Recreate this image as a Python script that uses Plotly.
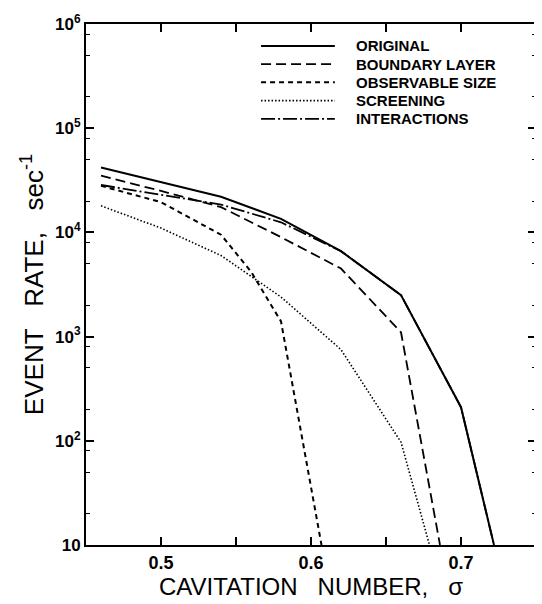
import plotly.graph_objects as go

# ---- data ----
sigma_original = [0.46, 0.50, 0.54, 0.58, 0.62, 0.66, 0.70, 0.722]
rate_original = [42000, 30500, 22000, 13500, 6600, 2500, 210, 10]

sigma_boundary = [0.46, 0.50, 0.54, 0.58, 0.62, 0.66, 0.686]
rate_boundary = [35000, 25000, 17500, 9000, 4500, 1100, 10]

sigma_observable = [0.46, 0.50, 0.54, 0.56, 0.58, 0.607]
rate_observable = [28000, 19500, 9500, 4200, 1400, 10]

sigma_screening = [0.46, 0.50, 0.54, 0.58, 0.62, 0.66, 0.679]
rate_screening = [18000, 11000, 6000, 2400, 750, 97, 10]

sigma_interactions = [0.46, 0.50, 0.54, 0.58, 0.62, 0.66, 0.70, 0.722]
rate_interactions = [28500, 23000, 18500, 12500, 6600, 2500, 210, 10]

series_names = ["ORIGINAL", "BOUNDARY LAYER", "OBSERVABLE SIZE", "SCREENING", "INTERACTIONS"]

x_tickvals = [0.5, 0.55, 0.6, 0.65, 0.7]
x_ticktext = ["0.5", "", "0.6", "", "0.7"]
y_tickvals = [10, 1e2, 1e3, 1e4, 1e5, 1e6]
y_ticktext = ["10", "10<sup>2</sup>", "10<sup>3</sup>", "10<sup>4</sup>", "10<sup>5</sup>", "10<sup>6</sup>"]
y_minorvals = [m * 10 ** e for e in range(1, 6) for m in (2, 5, 8)]

FONT = "Liberation Sans, Arial, Helvetica, sans-serif"

styles = {
    "ORIGINAL": dict(dash="solid", width=2),
    "BOUNDARY LAYER": dict(dash="10px,5px", width=1.8),
    "OBSERVABLE SIZE": dict(dash="5px,4px", width=2),
    "SCREENING": dict(dash="1.5px,2px", width=1.6),
    "INTERACTIONS": dict(dash="14px,3px,2px,3px", width=1.8),
}

data = {
    "ORIGINAL": (sigma_original, rate_original),
    "BOUNDARY LAYER": (sigma_boundary, rate_boundary),
    "OBSERVABLE SIZE": (sigma_observable, rate_observable),
    "SCREENING": (sigma_screening, rate_screening),
    "INTERACTIONS": (sigma_interactions, rate_interactions),
}

fig = go.Figure()
draw_order = ["SCREENING", "OBSERVABLE SIZE", "BOUNDARY LAYER", "INTERACTIONS", "ORIGINAL"]
for name in draw_order:
    xs, ys = data[name]
    st = styles[name]
    fig.add_trace(go.Scatter(
        x=xs, y=ys, mode="lines", name=name, showlegend=False,
        line=dict(color="black", width=st["width"], dash=st["dash"]),
    ))

# manual legend (long line samples as in the reference)
x0, x1, xt = 0.389, 0.553, 0.595
row_y = [0.958, 0.923, 0.888, 0.853, 0.818]
for name, yy in zip(series_names, row_y):
    st = styles[name]
    fig.add_shape(type="line", xref="paper", yref="paper", x0=x0, x1=x1, y0=yy, y1=yy,
                  line=dict(color="black", width=st["width"], dash=st["dash"]))
    fig.add_annotation(xref="paper", yref="paper", x=xt, y=yy, text=name, showarrow=False,
                       xanchor="left", yanchor="middle",
                       font=dict(family=FONT, size=15, color="black", weight="bold"))

# page body has an 8px margin, so the figure is sized to fit inside the 542x604 window
fig.update_layout(
    width=534, height=596,
    margin=dict(l=78, r=4, t=13, b=59),
    paper_bgcolor="white", plot_bgcolor="white",
    showlegend=False,
    font=dict(family=FONT, color="black"),
)
fig.update_xaxes(
    range=[0.45, 0.75], showgrid=False, zeroline=False,
    showline=True, linecolor="black", linewidth=2, mirror="ticks",
    ticks="inside", ticklen=8, tickwidth=1.5, tickcolor="black",
    tickvals=x_tickvals, ticktext=x_ticktext,
    tickfont=dict(family=FONT, size=18, weight="bold"),
    title=dict(text="CAVITATION\u00a0\u00a0\u00a0NUMBER,\u00a0\u00a0\u00a0σ",
               font=dict(family=FONT, size=24), standoff=4),
)
fig.update_yaxes(
    type="log", range=[1, 6], showgrid=False, zeroline=False,
    showline=True, linecolor="black", linewidth=2, mirror="ticks",
    ticks="inside", ticklen=8, tickwidth=1.5, tickcolor="black",
    tickvals=y_tickvals, ticktext=y_ticktext,
    tickfont=dict(family=FONT, size=17, weight="bold"),
    minor=dict(tickvals=y_minorvals, ticks="inside", ticklen=4, tickcolor="black", tickwidth=1.2, showgrid=False),
    title=dict(text="EVENT\u00a0\u00a0\u00a0RATE,\u00a0\u00a0\u00a0sec<sup>-1</sup>",
               font=dict(family=FONT, size=26), standoff=4),
)

fig.write_html("out.html")
